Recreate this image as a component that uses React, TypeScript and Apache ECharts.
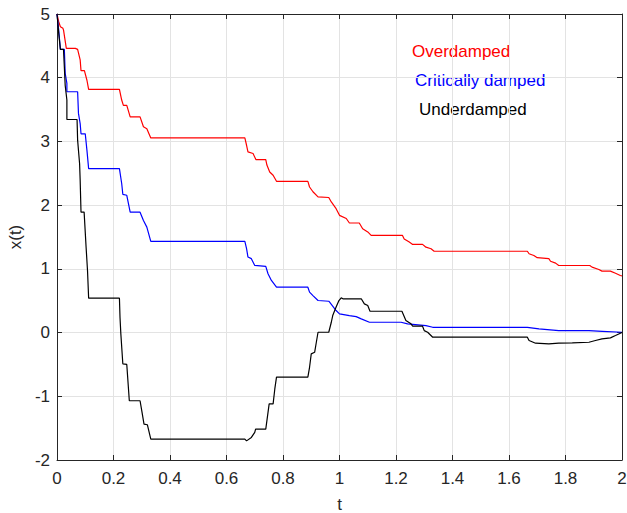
import React, { useEffect, useRef } from "react";
import * as echarts from "echarts";

const xTicks = [0, 0.2, 0.4, 0.6, 0.8, 1, 1.2, 1.4, 1.6, 1.8, 2];
const yTicks = [-2, -1, 0, 1, 2, 3, 4, 5];
const seriesNames = ["Overdamped", "Critically damped", "Underdamped"];
const seriesColors = ["#ff0000", "#0000ff", "#000000"];

const overdamped: [number, number][] = [
  [0, 5], [0.006, 4.88], [0.012, 4.8], [0.021, 4.775], [0.023, 4.75], [0.033, 4.46], [0.065, 4.46],
  [0.073, 4.445], [0.082, 4.28], [0.085, 4.11], [0.097, 4.11], [0.106, 3.96], [0.112, 3.816],
  [0.221, 3.816], [0.229, 3.65], [0.235, 3.565], [0.247, 3.565], [0.259, 3.385], [0.294, 3.385],
  [0.306, 3.23], [0.318, 3.2], [0.332, 3.055], [0.665, 3.055], [0.671, 2.94], [0.676, 2.835],
  [0.694, 2.81], [0.704, 2.715], [0.739, 2.715], [0.743, 2.63], [0.753, 2.52], [0.765, 2.47],
  [0.777, 2.374], [0.888, 2.374], [0.894, 2.285], [0.906, 2.21], [0.924, 2.13], [0.962, 2.12],
  [0.971, 2.05], [0.988, 1.945], [1.0, 1.84], [1.024, 1.79], [1.035, 1.72], [1.07, 1.72],
  [1.082, 1.63], [1.1, 1.58], [1.112, 1.525], [1.223, 1.525], [1.229, 1.47], [1.247, 1.42],
  [1.259, 1.384], [1.294, 1.384], [1.306, 1.34], [1.324, 1.316], [1.335, 1.276], [1.665, 1.276],
  [1.671, 1.237], [1.688, 1.21], [1.7, 1.175], [1.741, 1.16], [1.747, 1.12], [1.765, 1.09],
  [1.776, 1.053], [1.886, 1.053], [1.894, 1.027], [1.918, 0.99], [1.929, 0.964], [1.959, 0.964],
  [1.977, 0.932], [1.994, 0.896], [2, 0.89],
];

const criticallyDamped: [number, number][] = [
  [0, 5], [0.006, 4.75], [0.012, 4.445], [0.026, 4.445], [0.029, 4.07], [0.035, 3.91], [0.035, 3.78],
  [0.073, 3.78], [0.076, 3.44], [0.082, 3.28], [0.085, 3.12], [0.1, 3.12], [0.106, 2.86],
  [0.112, 2.574], [0.221, 2.574], [0.229, 2.34], [0.233, 2.17], [0.247, 2.155], [0.259, 1.89],
  [0.294, 1.89], [0.306, 1.76], [0.318, 1.655], [0.332, 1.431], [0.665, 1.431], [0.671, 1.316],
  [0.676, 1.185], [0.688, 1.16], [0.7, 1.054], [0.739, 1.04], [0.747, 0.923], [0.759, 0.818],
  [0.777, 0.712], [0.888, 0.712], [0.894, 0.634], [0.906, 0.58], [0.924, 0.503], [0.962, 0.492],
  [0.965, 0.477], [0.988, 0.346], [1.0, 0.294], [1.035, 0.267], [1.059, 0.25], [1.077, 0.215],
  [1.106, 0.162], [1.218, 0.162], [1.241, 0.137], [1.306, 0.11], [1.33, 0.083], [1.665, 0.083],
  [1.706, 0.057], [1.776, 0.03], [1.883, 0.03], [1.93, 0.02], [2, 0.005],
];

const underdamped: [number, number][] = [
  [0, 5], [0.006, 4.7], [0.012, 4.445], [0.023, 4.445], [0.026, 4.17], [0.029, 3.88], [0.035, 3.65],
  [0.035, 3.344], [0.071, 3.344], [0.073, 3.02], [0.08, 2.65], [0.082, 2.39], [0.085, 1.89],
  [0.096, 1.89], [0.103, 1.34], [0.108, 0.975], [0.112, 0.54], [0.221, 0.54], [0.223, 0.24],
  [0.226, -0.02], [0.233, -0.49], [0.247, -0.5], [0.256, -1.07], [0.294, -1.07], [0.3, -1.226],
  [0.308, -1.436], [0.32, -1.447], [0.332, -1.672], [0.665, -1.672], [0.671, -1.7], [0.688, -1.646],
  [0.7, -1.567], [0.703, -1.515], [0.739, -1.515], [0.751, -1.12], [0.765, -1.12], [0.771, -0.885],
  [0.777, -0.7], [0.888, -0.7], [0.894, -0.545], [0.9, -0.335], [0.912, -0.31], [0.918, -0.152],
  [0.924, 0.005], [0.962, 0.005], [0.971, 0.162], [0.976, 0.267], [0.988, 0.4], [0.998, 0.503],
  [1.006, 0.545], [1.012, 0.53], [1.077, 0.53], [1.088, 0.45], [1.1, 0.425], [1.108, 0.335],
  [1.221, 0.335], [1.235, 0.19], [1.253, 0.137], [1.259, 0.1], [1.294, 0.1], [1.3, 0.03],
  [1.312, 0.005], [1.33, -0.073], [1.665, -0.073], [1.671, -0.125], [1.694, -0.167], [1.741, -0.178],
  [1.776, -0.167], [1.824, -0.162], [1.883, -0.152], [1.906, -0.125], [1.929, -0.1], [1.959, -0.083],
  [1.977, -0.047], [2, 0],
];

const FONT = "'Liberation Sans', Arial, Helvetica, sans-serif";
const AXIS_COLOR = "#262626";

export default function App() {
  const ref = useRef<HTMLDivElement>(null);
  useEffect(() => {
    if (!ref.current) return;
    const chart = echarts.init(ref.current, undefined, { renderer: "svg" });
    const dataSets = [overdamped, criticallyDamped, underdamped];
    const axisCommon = {
      axisLine: { show: true, onZero: false, lineStyle: { color: AXIS_COLOR, width: 1 } },
      axisTick: { show: true, inside: true, length: 5, lineStyle: { color: AXIS_COLOR } },
    };
    chart.setOption({
      animation: false,
      backgroundColor: "#ffffff",
      grid: { left: 57, right: 5, top: 14, bottom: 53, containLabel: false, outerBoundsMode: "none" },
      xAxis: [
        {
          type: "value", min: xTicks[0], max: xTicks[xTicks.length - 1], interval: 0.2,
          position: "bottom",
          name: "t", nameLocation: "middle", nameGap: 36,
          nameTextStyle: { fontFamily: FONT, fontSize: 17, color: AXIS_COLOR },
          ...axisCommon,
          axisLabel: { fontFamily: FONT, fontSize: 17, color: AXIS_COLOR, margin: 10 },
          splitLine: { show: true, lineStyle: { color: "#e3e3e3", width: 1 } },
        },
        {
          type: "value", min: xTicks[0], max: xTicks[xTicks.length - 1], interval: 0.2,
          position: "top", ...axisCommon,
          axisLabel: { show: false }, splitLine: { show: false },
        },
      ],
      yAxis: [
        {
          type: "value", min: yTicks[0], max: yTicks[yTicks.length - 1], interval: 1,
          position: "left",
          name: "x(t)", nameLocation: "middle", nameGap: 30, nameRotate: 90,
          nameTextStyle: { fontFamily: FONT, fontSize: 17, color: AXIS_COLOR },
          ...axisCommon,
          axisLabel: { fontFamily: FONT, fontSize: 17, color: AXIS_COLOR, margin: 7 },
          splitLine: { show: true, lineStyle: { color: "#e3e3e3", width: 1 } },
        },
        {
          type: "value", min: yTicks[0], max: yTicks[yTicks.length - 1], interval: 1,
          position: "right", ...axisCommon,
          axisLabel: { show: false }, splitLine: { show: false },
        },
      ],
      series: dataSets.map((d, i) => ({
        type: "line",
        name: seriesNames[i],
        data: d,
        xAxisIndex: 0,
        yAxisIndex: 0,
        showSymbol: false,
        symbol: "none",
        lineStyle: { color: seriesColors[i], width: 1.2 },
        z: 2 + i,
      })),
      graphic: [
        { type: "text", left: 412, top: 43, style: { text: seriesNames[0], fill: seriesColors[0], font: `17px ${FONT}` } },
        { type: "text", left: 415, top: 72, style: { text: seriesNames[1], fill: seriesColors[1], font: `17px ${FONT}` } },
        { type: "text", left: 419, top: 101, style: { text: seriesNames[2], fill: seriesColors[2], font: `17px ${FONT}` } },
      ],
    });
    return () => chart.dispose();
  }, []);
  return <div ref={ref} style={{ position: "absolute", left: 0, top: 0, width: 627, height: 513 }} />;
}
